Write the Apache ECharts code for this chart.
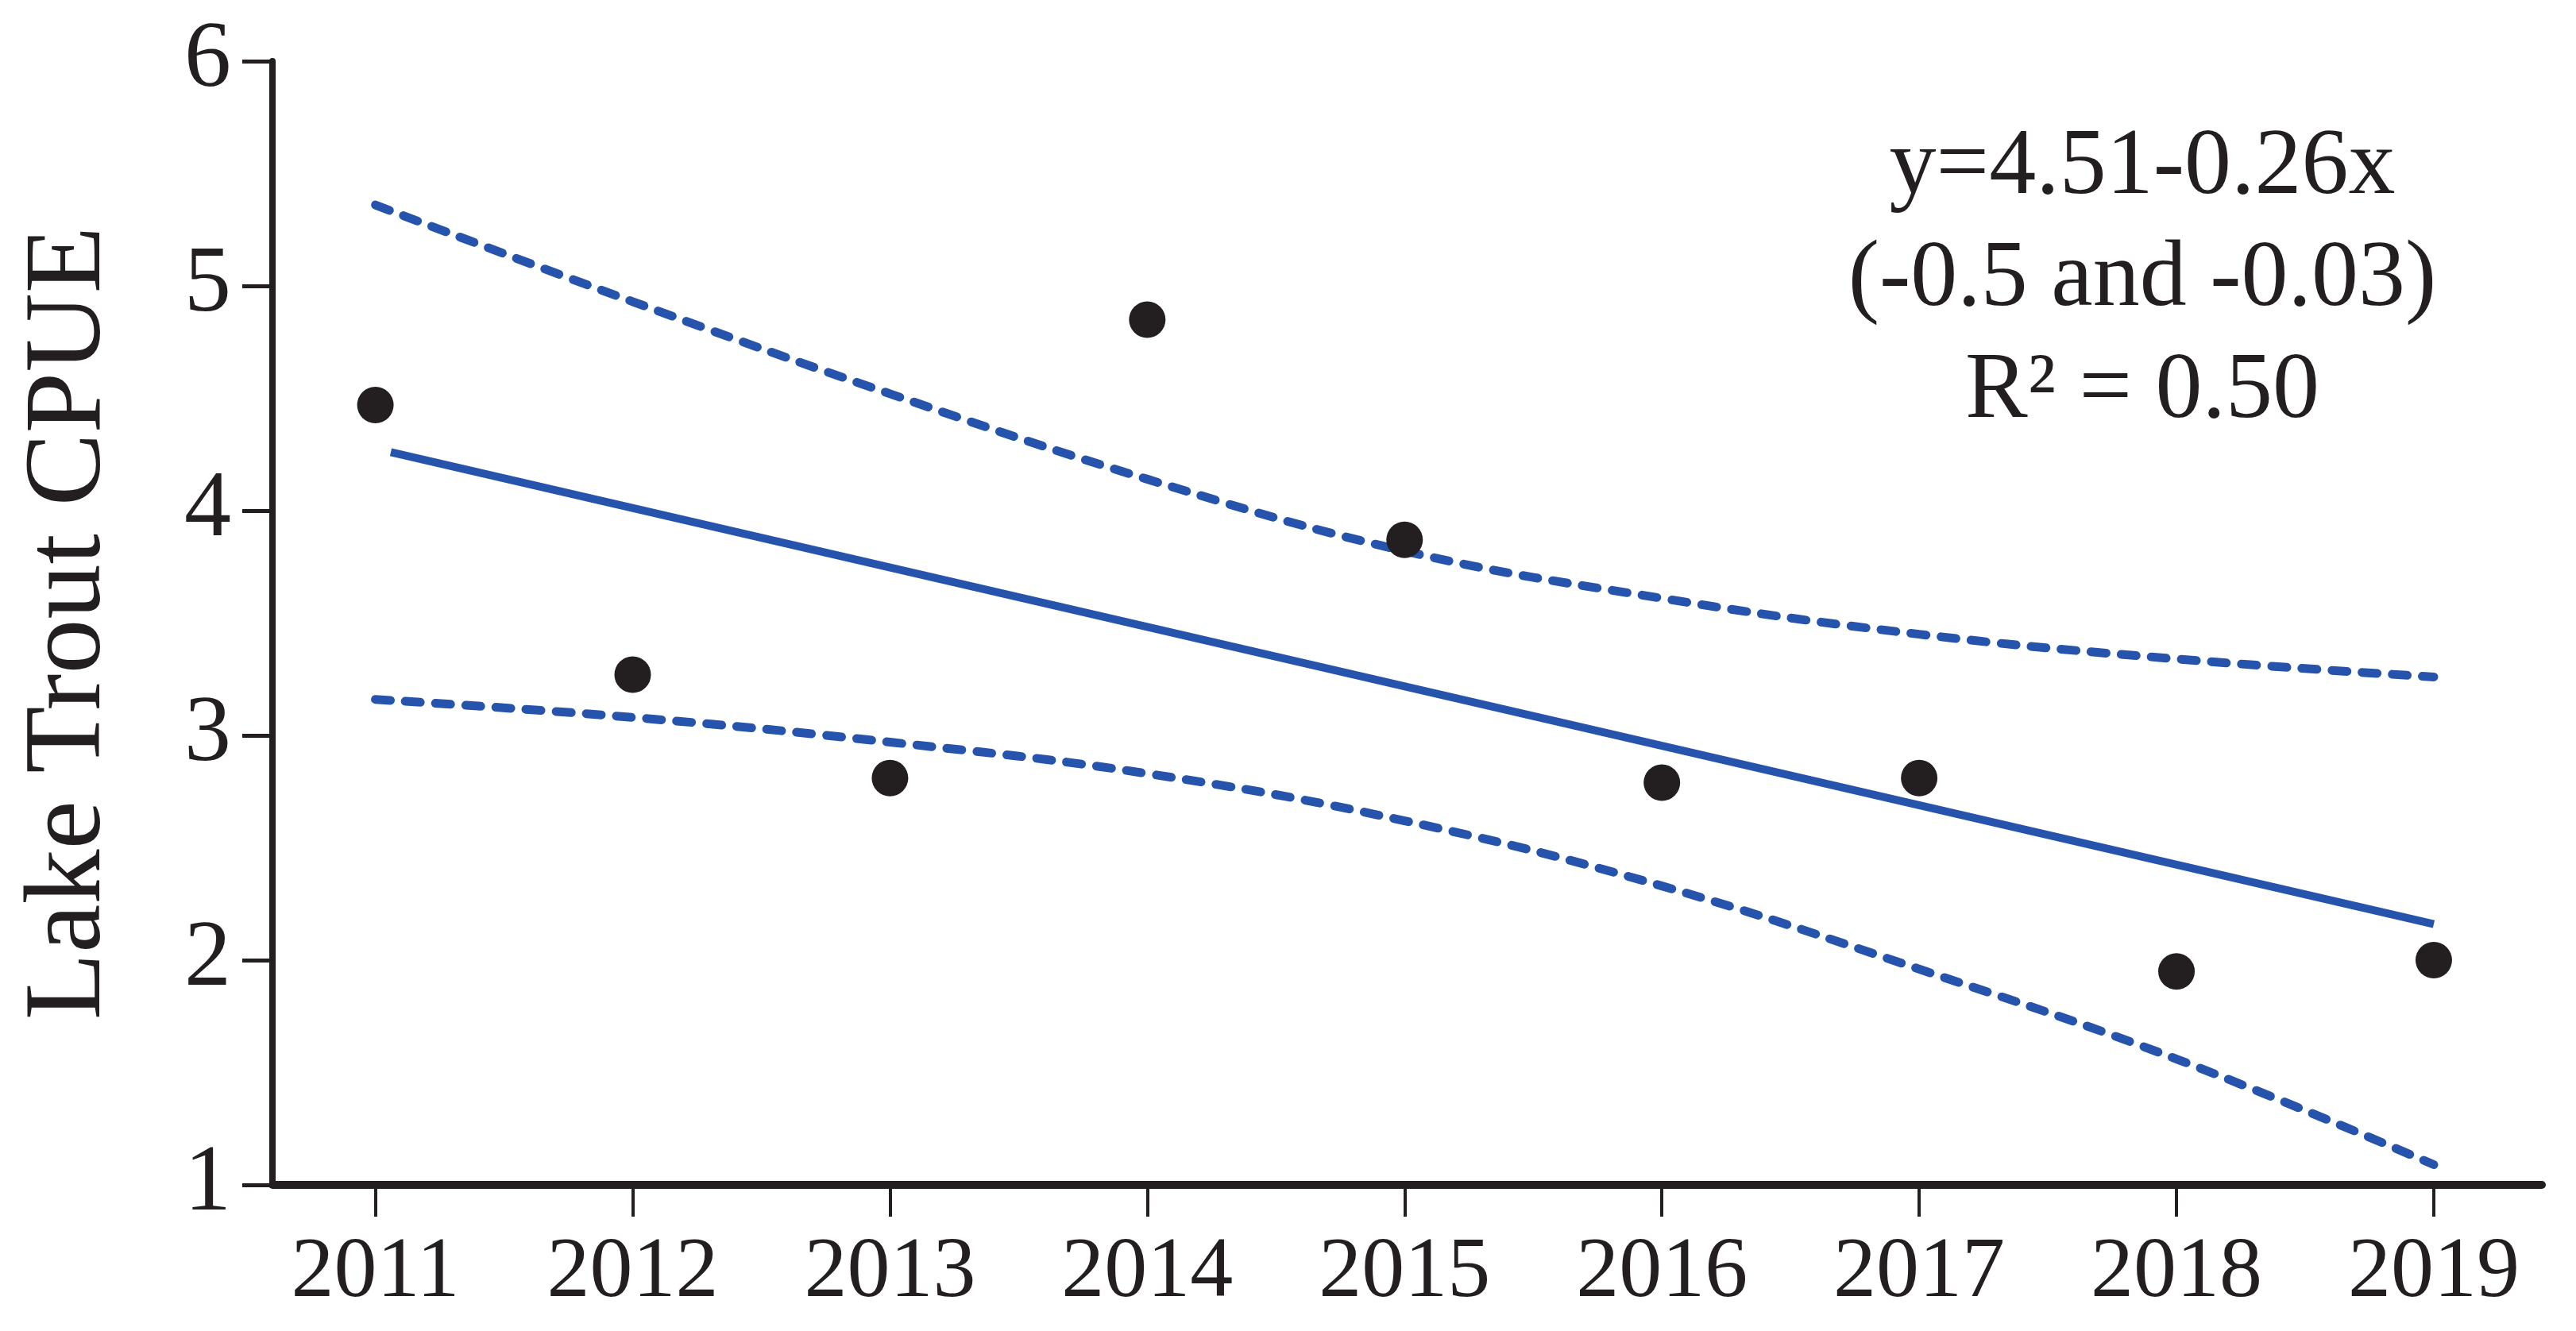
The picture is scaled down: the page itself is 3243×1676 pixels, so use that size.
<!DOCTYPE html>
<html>
<head>
<meta charset="utf-8">
<script src="https://cdn.jsdelivr.net/npm/echarts@6/dist/echarts.min.js"></script>
<style>
  html, body { margin: 0; padding: 0; background: #ffffff; }
  #main { width: 3243px; height: 1676px; }
</style>
</head>
<body>
<div id="main"></div>
<script>
// data
var years = [2011, 2012, 2013, 2014, 2015, 2016, 2017, 2018, 2019];
var cpue = [4.47, 3.27, 2.81, 4.85, 3.87, 2.79, 2.81, 1.95, 2.0];
var fitYears = [2011.06, 2019];
var fitValues = [4.26, 2.16];
var upperCI = [5.36, 4.93, 4.52, 4.14, 3.82, 3.61, 3.45, 3.34, 3.26];
var lowerCI = [3.16, 3.08, 2.97, 2.83, 2.62, 2.33, 1.96, 1.56, 1.09];
var yTicks = [1, 2, 3, 4, 5, 6];
var annotation = ['y=4.51-0.26x', '(-0.5 and -0.03)', 'R\u00b2 = 0.50'];

var chart = echarts.init(document.getElementById('main'));

var blue = '#2653ab';
var ink = '#231f20';
var serif = '"Liberation Serif", "DejaVu Serif", serif';

function pairs(xs, ys) {
  var out = [];
  for (var i = 0; i < xs.length; i++) {
    out.push([xs[i], ys[i]]);
  }
  return out;
}

var option = {
  backgroundColor: '#ffffff',
  animation: false,
  grid: {
    left: 343,
    right: 43,
    top: 77,
    bottom: 184
  },
  xAxis: {
    type: 'value',
    min: 2010.6,
    max: 2019.42,
    splitLine: { show: false },
    axisLine: { show: true, onZero: false, lineStyle: { color: ink, width: 10 } },
    axisTick: {
      show: true,
      customValues: years,
      length: 40,
      lineStyle: { color: ink, width: 4 }
    },
    axisLabel: {
      customValues: years,
      margin: 58,
      color: ink,
      fontFamily: serif,
      fontSize: 108,
      formatter: function (v) { return String(v); }
    }
  },
  yAxis: {
    type: 'value',
    min: 1,
    max: 6,
    interval: 1,
    name: 'Lake Trout CPUE',
    nameLocation: 'middle',
    nameRotate: 90,
    nameGap: 185,
    nameTextStyle: { color: ink, fontFamily: serif, fontSize: 138 },
    splitLine: { show: false },
    axisLine: { show: true, lineStyle: { color: ink, width: 8 } },
    axisTick: {
      show: true,
      length: 38,
      lineStyle: { color: ink, width: 5 }
    },
    axisLabel: {
      customValues: yTicks,
      margin: 52,
      color: ink,
      fontFamily: serif,
      fontSize: 118
    }
  },
  graphic: [{
    type: 'text',
    x: 2697,
    y: 142,
    style: {
      text: annotation.join('\n'),
      textAlign: 'center',
      textVerticalAlign: 'top',
      fill: ink,
      font: '118px ' + serif,
      lineHeight: 141
    }
  }],
  series: [
    {
      name: 'upper',
      type: 'line',
      data: pairs(years, upperCI),
      smooth: 0.4,
      symbol: 'none',
      lineStyle: { color: blue, width: 11, type: [19, 19], cap: 'round' },
      z: 2
    },
    {
      name: 'lower',
      type: 'line',
      data: pairs(years, lowerCI),
      smooth: 0.4,
      symbol: 'none',
      lineStyle: { color: blue, width: 11, type: [19, 19], cap: 'round' },
      z: 2
    },
    {
      name: 'fit',
      type: 'line',
      data: pairs(fitYears, fitValues),
      symbol: 'none',
      lineStyle: { color: blue, width: 10 },
      z: 3
    },
    {
      name: 'CPUE',
      type: 'scatter',
      data: pairs(years, cpue),
      symbol: 'circle',
      symbolSize: 46,
      itemStyle: { color: ink, opacity: 1 },
      z: 4
    }
  ]
};

chart.setOption(option);
</script>
</body>
</html>
